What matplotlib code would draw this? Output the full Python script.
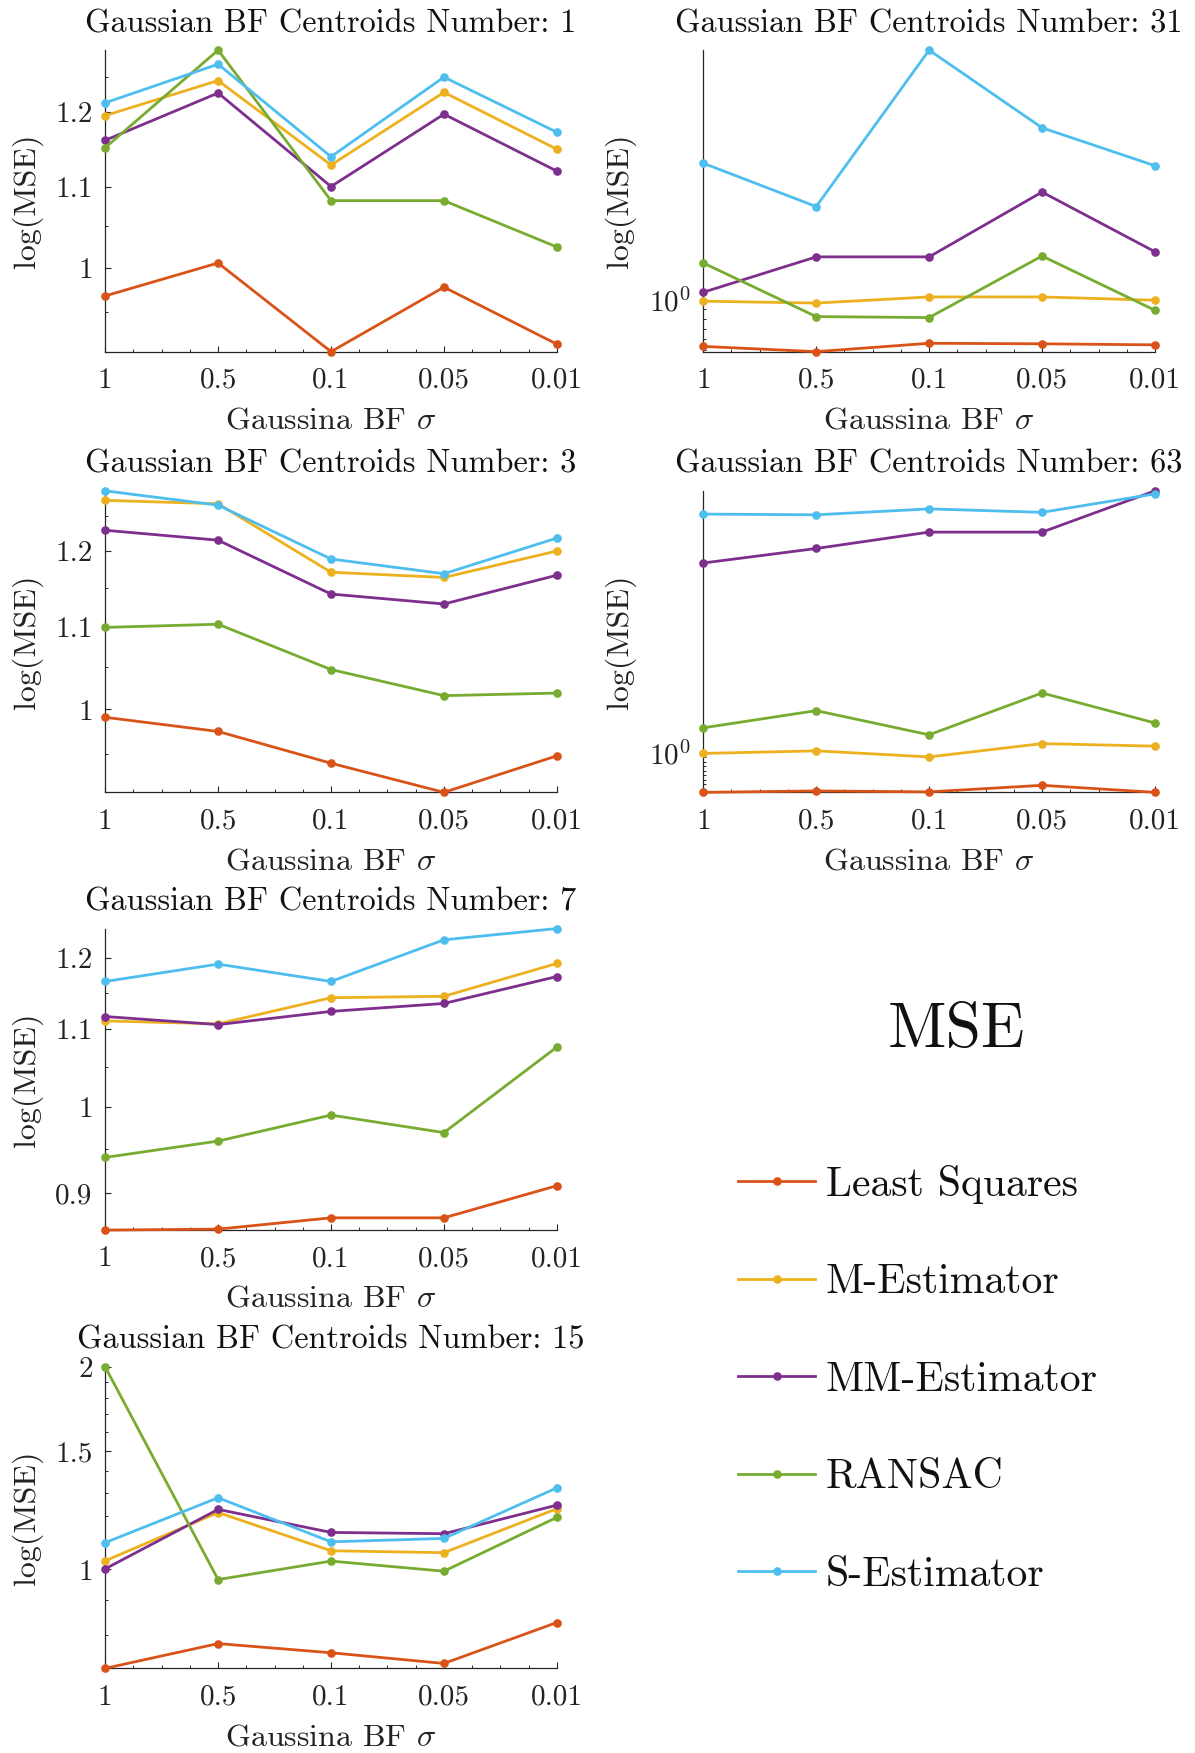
import numpy as np
import matplotlib
matplotlib.use("Agg")
import matplotlib.pyplot as plt
from matplotlib.ticker import MultipleLocator, FixedLocator, FuncFormatter, NullFormatter

plt.rcParams.update({
    "font.family": "serif",
    "font.serif": ["cmr10"],
    "mathtext.fontset": "cm",
    "axes.formatter.use_mathtext": True,
    "axes.unicode_minus": False,
})

# ---- data -------------------------------------------------------------
sigma_labels = ["1", "0.5", "0.1", "0.05", "0.01"]
methods = ["Least Squares", "M-Estimator", "MM-Estimator", "RANSAC", "S-Estimator"]
colors = ["#D95319", "#EDB120", "#7E2F8E", "#77AC30", "#4DBEEE"]

# rows: Least Squares, M-Estimator, MM-Estimator, RANSAC, S-Estimator
mse_n1 = [[0.968, 1.006, 0.907, 0.978, 0.915],
          [1.195, 1.245, 1.128, 1.228, 1.149],
          [1.161, 1.227, 1.100, 1.197, 1.120],
          [1.151, 1.290, 1.082, 1.082, 1.025],
          [1.213, 1.269, 1.139, 1.250, 1.172]]
mse_n3 = [[0.991, 0.975, 0.940, 0.909, 0.948],
          [1.272, 1.267, 1.171, 1.164, 1.200],
          [1.229, 1.215, 1.142, 1.129, 1.167],
          [1.099, 1.103, 1.047, 1.016, 1.019],
          [1.286, 1.265, 1.189, 1.169, 1.218]]
mse_n7 = [[0.860, 0.861, 0.873, 0.873, 0.908],
          [1.111, 1.107, 1.143, 1.145, 1.192],
          [1.117, 1.106, 1.124, 1.135, 1.173],
          [0.940, 0.959, 0.990, 0.969, 1.076],
          [1.166, 1.191, 1.166, 1.227, 1.244]]
mse_n15 = [[0.713, 0.776, 0.752, 0.725, 0.834],
           [1.030, 1.215, 1.066, 1.059, 1.231],
           [1.002, 1.228, 1.135, 1.130, 1.246],
           [2.000, 0.966, 1.029, 0.994, 1.195],
           [1.096, 1.278, 1.099, 1.112, 1.322]]
mse_n31 = [[0.906, 0.896, 0.912, 0.911, 0.909],
           [0.997, 0.993, 1.006, 1.006, 0.999],
           [1.016, 1.095, 1.095, 1.256, 1.107],
           [1.081, 0.965, 0.963, 1.097, 0.978],
           [1.335, 1.218, 1.696, 1.439, 1.328]]
mse_n63 = [[0.913, 0.916, 0.914, 0.928, 0.913],
           [0.999, 1.005, 0.991, 1.022, 1.016],
           [1.552, 1.605, 1.667, 1.667, 1.834],
           [1.060, 1.103, 1.043, 1.149, 1.072],
           [1.738, 1.735, 1.759, 1.745, 1.821]]

# ---- layout -----------------------------------------------------------
W, H = 1195, 1753
fig = plt.figure(figsize=(W / 100, H / 100), dpi=100)

ax_w, ax_h = 0.378, 0.172
col_x = [0.088, 0.5885]
row_y = [0.7994, 0.548, 0.2983, 0.0483]

TICK_FS = 21
LABEL_FS = 23
TITLE_FS = 23.3
AX_COLOR = "#262626"

panels = [
    # (centroids, data, column, row, y-tick style)
    (1, mse_n1, 0, 0, "lin01"),
    (31, mse_n31, 1, 0, "dec02"),
    (3, mse_n3, 0, 1, "lin01"),
    (63, mse_n63, 1, 1, "dec01"),
    (7, mse_n7, 0, 2, "lin01"),
    (15, mse_n15, 0, 3, "lin05"),
]

x = np.arange(1, len(sigma_labels) + 1)
handles = []

for n, data, col, row, style in panels:
    ax = fig.add_axes([col_x[col], row_y[row], ax_w, ax_h])
    data = np.asarray(data)
    for k, (name, c) in enumerate(zip(methods, colors)):
        ln, = ax.plot(x, data[k], "-", color=c, lw=2.0, marker="o", ms=5.2,
                      clip_on=False, label=name, zorder=3 + k)
        if n == 1:
            handles.append(ln)

    ax.set_yscale("log")
    ax.set_xlim(x[0], x[-1])
    ax.set_ylim(data.min(), data.max())

    ax.set_xticks(x)
    ax.set_xticklabels(sigma_labels)
    ax.xaxis.set_minor_locator(MultipleLocator(0.25))

    if style == "lin01":
        ax.yaxis.set_major_locator(MultipleLocator(0.1))
        ax.yaxis.set_minor_locator(MultipleLocator(0.05))
        ax.yaxis.set_major_formatter(FuncFormatter(lambda v, p: f"{v:g}"))
    elif style == "lin05":
        ax.yaxis.set_major_locator(MultipleLocator(0.5))
        ax.yaxis.set_minor_locator(MultipleLocator(0.1))
        ax.yaxis.set_major_formatter(FuncFormatter(lambda v, p: f"{v:g}"))
    else:
        step = 0.02 if style == "dec02" else 0.01
        ax.yaxis.set_major_locator(FixedLocator([1.0]))
        ax.yaxis.set_minor_locator(FixedLocator(np.arange(0.80, 0.9999, step)))
        ax.yaxis.set_major_formatter(FuncFormatter(lambda v, p: r"$10^{0}$"))
    ax.yaxis.set_minor_formatter(NullFormatter())

    for side in ("top", "right"):
        ax.spines[side].set_visible(False)
    for side in ("left", "bottom"):
        ax.spines[side].set_color(AX_COLOR)
        ax.spines[side].set_linewidth(0.9)

    ax.tick_params(which="both", direction="in", colors=AX_COLOR,
                   labelsize=TICK_FS, labelcolor="#222222")
    ax.tick_params(which="major", length=4.5, width=0.8)
    ax.tick_params(which="minor", length=2.5, width=0.7)
    ax.tick_params(axis="x", which="major", pad=11.5)
    ax.tick_params(axis="y", which="major", pad=9)

    ax.set_title(f"Gaussian BF Centroids Number: {n}", fontsize=TITLE_FS,
                 pad=13, color="#111111")
    ax.set_xlabel(r"Gaussina BF $\sigma$", fontsize=LABEL_FS, color="#222222")
    ax.xaxis.set_label_coords(0.5, -0.255)
    ax.xaxis.label.set_va("baseline")
    ax.set_ylabel("log(MSE)", fontsize=LABEL_FS, color="#222222")
    ax.yaxis.label.set_va("center")
    ax.yaxis.set_label_coords(-0.173 if col == 0 else -0.184, 0.5)

# ---- legend panel -----------------------------------------------------
fig.text(956 / W, 1 - 1031 / H, "MSE", ha="center", va="center",
         fontsize=46, color="#111111")

leg = fig.legend(handles, methods, loc="upper left",
                 bbox_to_anchor=(738 / W, 1 - 1165 / H),
                 frameon=False, fontsize=30, handlelength=1.85,
                 handletextpad=0.25, labelspacing=1.44,
                 borderpad=0, borderaxespad=0, markerscale=1.0)
for t in leg.get_texts():
    t.set_color("#111111")

fig.savefig("out.png", dpi=100)
